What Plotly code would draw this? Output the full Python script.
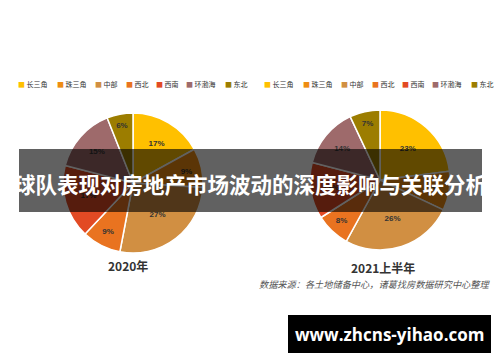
import plotly.graph_objects as go

regions = ["长三角", "珠三角", "中部", "西北", "西南", "环渤海", "东北"]
share_2020 = [17, 9, 27, 9, 17, 15, 6]
share_2021h1 = [23, 9, 26, 8, 13, 14, 7]
colors = ["#FFC000", "#EE8C12", "#D18F42", "#E97320", "#E24A24", "#9E6A6B", "#9C7D00"]
titles = ["2020年", "2021上半年"]
headline = "球队表现对房地产市场波动的深度影响与关联分析"
source = "数据来源：各土地储备中心，诸葛找房数据研究中心整理"
watermark = "www.zhcns-yihao.com"

W, H = 500, 362

def px(x):
    return x / W

def py(y):
    return 1 - y / H

fig = go.Figure()
pie_boxes = [(63, 203, 113, 253), (310, 450, 110, 250)]
for vals, (x0, x1, y0, y1) in zip([share_2020, share_2021h1], pie_boxes):
    fig.add_trace(go.Pie(
        labels=regions, values=vals, sort=False, direction="clockwise", rotation=0,
        marker=dict(colors=colors, line=dict(color="white", width=1.5)),
        texttemplate="<b>%{value}%</b>", textposition="inside",
        insidetextorientation="horizontal",
        textfont=dict(size=8, color="#333333", family="Arial, Liberation Sans"),
        domain=dict(x=[px(x0), px(x1)], y=[py(y1), py(y0)]),
        showlegend=False, hoverinfo="label+percent",
    ))

annotations = []
shapes = []
# custom legends above each pie
legend_starts = [16, 262]
for start in legend_starts:
    x = start
    for lab, col in zip(regions, colors):
        annotations.append(dict(
            x=px(x), y=py(84), xref="paper", yref="paper", xanchor="left", yanchor="middle",
            text=f"<span style='color:{col}'>■</span> {lab}", showarrow=False,
            font=dict(size=7, color="#333333", family="Noto Sans CJK SC")))
        x += 12 + 8.2 * len(lab) + 2

# year captions
annotations.append(dict(x=px(128), y=py(265), xref="paper", yref="paper", xanchor="center", yanchor="middle",
                        text=f"<b>{titles[0]}</b>",
                        showarrow=False, font=dict(size=12, color="#333333", family="Noto Sans CJK SC")))
annotations.append(dict(x=px(383), y=py(267), xref="paper", yref="paper", xanchor="center", yanchor="middle",
                        text=f"<b>{titles[1]}</b>",
                        showarrow=False, font=dict(size=12, color="#333333", family="Noto Sans CJK SC")))
# source
annotations.append(dict(x=px(492), y=py(284), xref="paper", yref="paper", xanchor="right", yanchor="middle",
                        text=f"<i>{source}</i>", showarrow=False,
                        font=dict(size=9.2, color="#555555", family="Noto Sans CJK SC")))

# headline overlay band
shapes.append(dict(type="rect", xref="paper", yref="paper", x0=px(19), x1=px(482), y0=py(212), y1=py(149),
                   fillcolor="rgba(0,0,0,0.62)", line=dict(width=0), layer="above"))
annotations.append(dict(x=px(250), y=py(183), xref="paper", yref="paper", xanchor="center", yanchor="middle",
                        text=f"<b>{headline}</b>",
                        showarrow=False, font=dict(size=21.5, color="white", family="Noto Sans CJK SC")))
# watermark box
shapes.append(dict(type="rect", xref="paper", yref="paper", x0=px(288), x1=px(491), y0=py(353), y1=py(315),
                   fillcolor="black", line=dict(width=0), layer="above"))
annotations.append(dict(x=px(389), y=py(334), xref="paper", yref="paper", xanchor="center", yanchor="middle",
                        text=f"<b>{watermark}</b>",
                        showarrow=False, font=dict(size=17, color="white", family="Open Sans")))

fig.update_layout(
    width=W, height=H, margin=dict(l=0, r=0, t=0, b=0),
    paper_bgcolor="white", plot_bgcolor="white",
    annotations=annotations, shapes=shapes, showlegend=False,
)
fig.write_html("out.html")
